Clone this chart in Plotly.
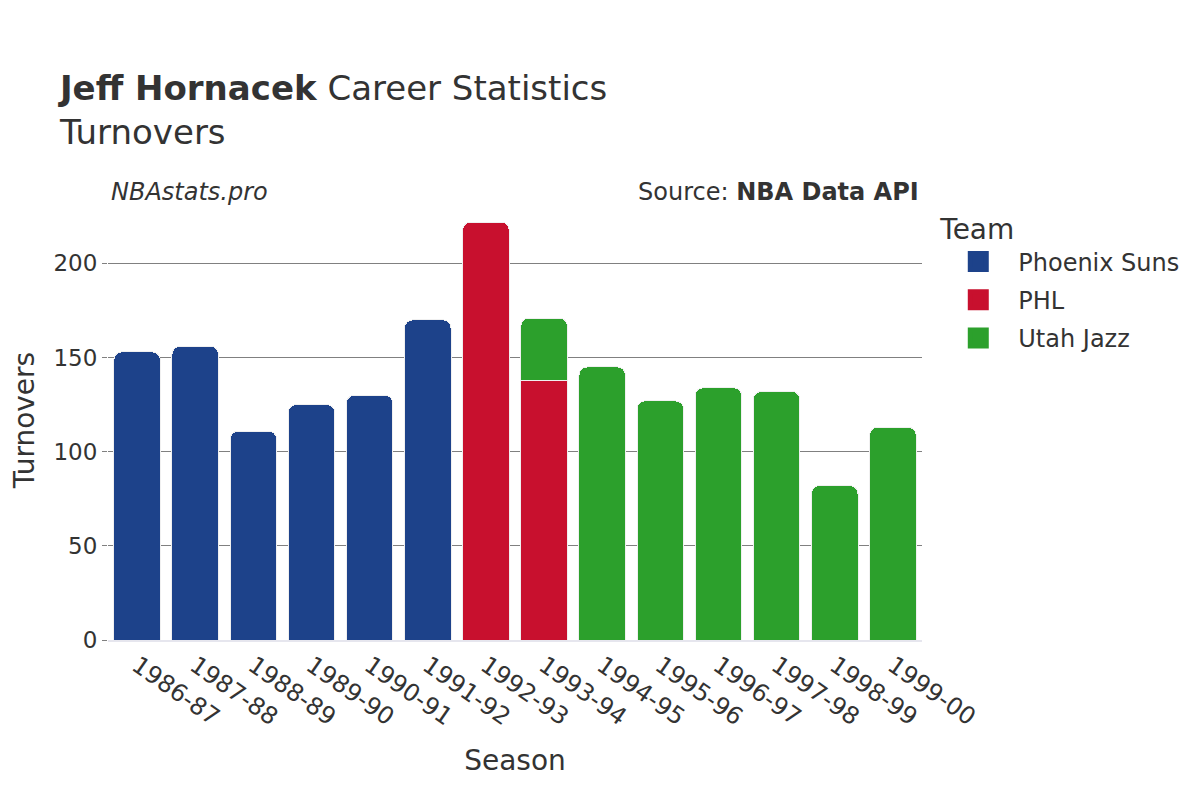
import plotly.graph_objects as go

seasons = ["1986-87", "1987-88", "1988-89", "1989-90", "1990-91", "1991-92", "1992-93",
           "1993-94", "1994-95", "1995-96", "1996-97", "1997-98", "1998-99", "1999-00"]

phx_seasons = ["1986-87", "1987-88", "1988-89", "1989-90", "1990-91", "1991-92"]
phx_values = [153, 156, 111, 125, 130, 170]

phl_seasons = ["1992-93", "1993-94"]
phl_values = [222, 138]

uta_seasons = ["1993-94", "1994-95", "1995-96", "1996-97", "1997-98", "1998-99", "1999-00"]
uta_values = [33, 145, 127, 134, 132, 82, 113]

teams = [
    ("Phoenix Suns", phx_seasons, phx_values, "#1d428a"),
    ("PHL", phl_seasons, phl_values, "#c8102e"),
    ("Utah Jazz", uta_seasons, uta_values, "#2ca02c"),
]

font_family = "DejaVu Sans"
text_color = "#333333"

fig = go.Figure()
for name, xs, ys, color in teams:
    fig.add_trace(go.Bar(
        x=xs, y=ys, name=name, legendgroup=name, showlegend=False,
        marker=dict(color=color, line=dict(color="#f0f0f0", width=1)),
    ))
# legend entries with larger swatches
for name, xs, ys, color in teams:
    fig.add_trace(go.Scatter(
        x=[None], y=[None], name=name, legendgroup=name, mode="markers",
        marker=dict(symbol="square", size=16, color=color,
                    line=dict(color=color, width=6)),
    ))

fig.update_layout(
    barmode="stack",
    barcornerradius=8,
    bargap=0.2,
    width=1200, height=800,
    paper_bgcolor="white", plot_bgcolor="white",
    font=dict(family=font_family, color=text_color, size=24),
    margin=dict(l=100, r=286, t=192, b=168, autoexpand=False),
    title=dict(
        text="<b>Jeff Hornacek</b> Career Statistics<br>Turnovers",
        x=0.0433, xanchor="left", y=0.885, yanchor="bottom",
        font=dict(size=34, family=font_family, color=text_color),
    ),
    legend=dict(
        title=dict(text="Team", font=dict(size=28)),
        font=dict(size=24),
        x=1.02, xanchor="left", y=0.993, yanchor="top",
        traceorder="grouped", tracegroupgap=4,
        itemsizing="trace", itemwidth=70,
    ),
    xaxis=dict(
        title=dict(text="Season", font=dict(size=28), standoff=20),
        categoryorder="array", categoryarray=seasons,
        tickangle=35, tickfont=dict(size=24),
        showline=True, linecolor="#e6e6ee", linewidth=2,
        automargin=False, range=[-0.5, 13.5],
    ),
    yaxis=dict(
        title=dict(text="Turnovers", font=dict(size=28), standoff=25),
        tickfont=dict(size=23),
        gridcolor="#808080", gridwidth=1,
        ticks="outside", ticklen=5, tickcolor="#808080",
        zeroline=False, automargin=False,
        tickvals=[0, 50, 100, 150, 200],
    ),
    annotations=[
        dict(text="<i>NBAstats.pro</i>", xref="paper", yref="paper", x=0.0, y=1.0,
             xanchor="left", yanchor="bottom", showarrow=False, font=dict(size=24),
             xshift=1, yshift=-8),
        dict(text="Source: <b>NBA Data API</b>", xref="paper", yref="paper", x=1.0, y=1.0,
             xanchor="right", yanchor="bottom", showarrow=False, font=dict(size=24),
             xshift=-1, yshift=-8),
    ],
)

fig.write_html("out.html")
